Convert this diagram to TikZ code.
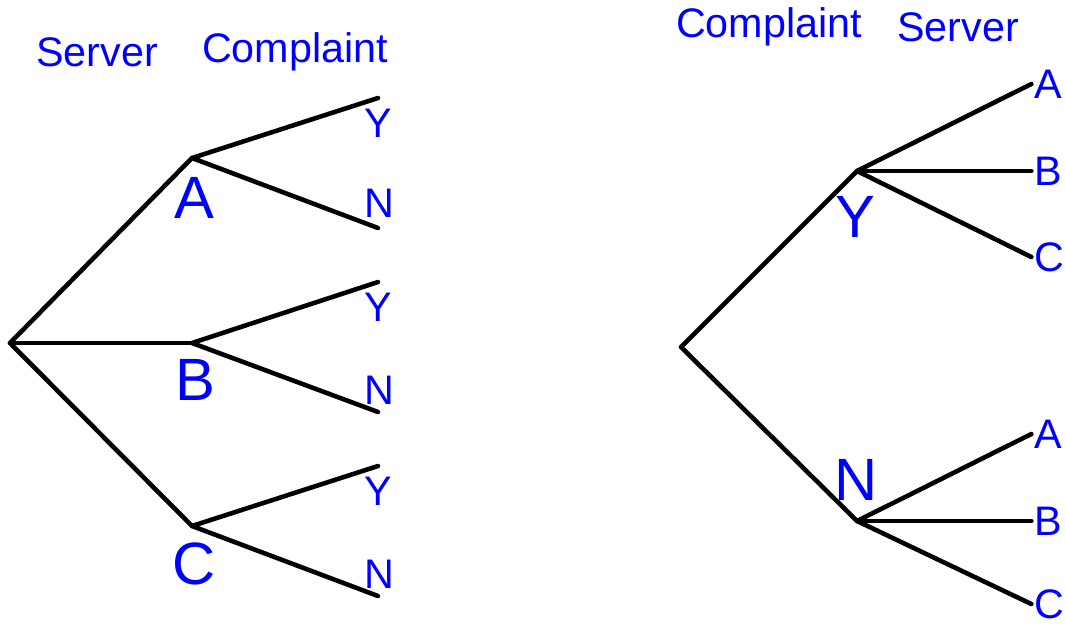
\documentclass[tikz,border=0pt]{standalone}
\usepackage{fontspec}
\setmainfont{Liberation Sans}
\tikzset{
  branch/.style={black,line width=2.6pt,line cap=round,line join=round},
  lab/.style={blue,inner sep=0pt,font=\fontsize{23.5}{27}\selectfont},
  biglab/.style={blue,inner sep=0pt,font=\fontsize{34}{40}\selectfont}
}
\begin{document}
\begin{tikzpicture}[x=0.02cm,y=-0.02cm]
    \useasboundingbox (0,0) rectangle (1065,627);
    % left tree: server first
    \node[lab] (hserver) at (97,52) {Server};
    \node[lab] (hcompl) at (295,52) {Complaint};
    \coordinate (root) at (10,343);
    \coordinate (a) at (192,158);
    \coordinate (b) at (192,343);
    \coordinate (c) at (192,526);
    \node[biglab] (la) at (194,198) {A};
    \node[biglab] (lb) at (195,380) {B};
    \node[biglab] (lc) at (194,564) {C};
    \coordinate (ay) at (378,98);  \coordinate (an) at (378,228);
    \coordinate (by) at (378,282); \coordinate (bn) at (378,412);
    \coordinate (cy) at (378,466); \coordinate (cn) at (378,596);
    \node[lab] (lay) at (378,123) {Y}; \node[lab] (lan) at (379,203) {N};
    \node[lab] (lby) at (378,307) {Y}; \node[lab] (lbn) at (379,390) {N};
    \node[lab] (lcy) at (378,491) {Y}; \node[lab] (lcn) at (379,574) {N};
    \draw[branch] (a) -- (root) -- (c);
    \draw[branch] (root) -- (b);
    \draw[branch] (ay) -- (a) -- (an);
    \draw[branch] (by) -- (b) -- (bn);
    \draw[branch] (cy) -- (c) -- (cn);
    % right tree: complaint first
    \node[lab] (hcompl2) at (769,27) {Complaint};
    \node[lab] (hserver2) at (958,27) {Server};
    \coordinate (root2) at (681,347);
    \coordinate (y) at (857,171);
    \coordinate (n) at (857,521);
    \node[biglab] (ly) at (855,217) {Y};
    \node[biglab] (ln) at (856,480) {N};
    \foreach \p/\q/\r in {y/171/86,n/521/83} {
      \node[lab,anchor=west] (\p a) at (1034,\q-87) {A};
      \node[lab,anchor=west] (\p b) at (1034,\q) {B};
      \node[lab,anchor=west] (\p c) at (1034,\q+\r) {C};
      \draw[branch] ([xshift=-1.5pt]\p a.west) -- (\p) -- ([xshift=-1.5pt]\p c.west);
      \draw[branch] (\p) -- ([xshift=-1.5pt]\p b.west);
    }
    \draw[branch] (y) -- (root2) -- (n);
\end{tikzpicture}
\end{document}
